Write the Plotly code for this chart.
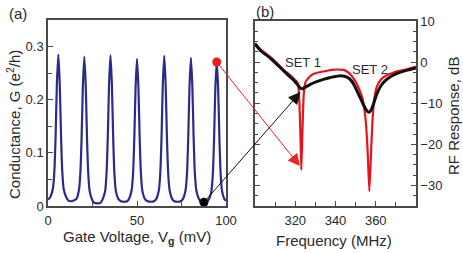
import plotly.graph_objects as go

# ---------------- Data ----------------
# Panel (a): conductance vs gate voltage
vg_mV = [0, 1.3, 2.8, 3.6, 4.3, 5.0, 5.8, 6.6, 7.3, 8.0, 8.8, 10.3, 11.5, 13.0,
         15.9, 17.4, 18.2, 18.9, 19.6, 20.4, 21.2, 21.9, 22.6, 23.4, 24.9, 26.0, 28.0, 29.5,
         30.6, 32.1, 32.9, 33.6, 34.3, 35.1, 35.9, 36.6, 37.3, 38.1, 39.6, 41.0, 43.0, 44.5,
         45.5, 47.0, 47.8, 48.5, 49.2, 50.0, 50.8, 51.5, 52.2, 53.0, 54.5, 56.0, 58.0, 59.5,
         60.8, 62.3, 63.1, 63.8, 64.5, 65.3, 66.1, 66.8, 67.5, 68.3, 69.8, 71.0, 73.0, 74.5,
         75.8, 77.3, 78.1, 78.8, 79.5, 80.3, 81.1, 81.8, 82.5, 83.3, 84.8, 86.0, 87.6, 89.0,
         90.3, 91.8, 92.6, 93.3, 94.0, 94.8, 95.6, 96.3, 97.0, 97.8, 99.3, 100.0]
conductance = [0.012, 0.017, 0.034, 0.067, 0.135, 0.230, 0.285, 0.230, 0.135, 0.066, 0.032, 0.016, 0.010, 0.009,
               0.013, 0.030, 0.063, 0.131, 0.226, 0.281, 0.226, 0.130, 0.062, 0.028, 0.011, 0.006, 0.005, 0.006,
               0.012, 0.028, 0.062, 0.131, 0.228, 0.284, 0.228, 0.131, 0.062, 0.029, 0.013, 0.009, 0.008, 0.009,
               0.013, 0.030, 0.062, 0.129, 0.223, 0.277, 0.223, 0.128, 0.061, 0.029, 0.013, 0.009, 0.008, 0.009,
               0.013, 0.030, 0.063, 0.131, 0.228, 0.283, 0.228, 0.131, 0.063, 0.030, 0.013, 0.009, 0.008, 0.009,
               0.013, 0.030, 0.062, 0.130, 0.225, 0.279, 0.225, 0.130, 0.062, 0.030, 0.013, 0.008, 0.007, 0.008,
               0.012, 0.028, 0.060, 0.126, 0.220, 0.272, 0.220, 0.126, 0.060, 0.028, 0.012, 0.010]

# marked operating points in (a)
red_point = (94.8, 0.271)
black_point = (87.6, 0.007)

# Panel (b): RF response vs frequency
freq_red = [300, 303, 307.5, 311, 314, 317, 319, 320.5, 321.4, 322.0, 322.6, 323.0, 323.5, 324.2, 325.0,
            327, 329, 331, 335, 338, 341, 344, 346, 348, 350, 352, 353.5, 354.5, 355.3, 356.0, 356.8,
            357.5, 358.3, 359.2, 360.5, 362.5, 365, 368, 371, 375, 380]
rf_red = [4.6, 3.0, 1.3, -0.3, -1.8, -3.0, -3.9, -4.6, -5.4, -9.0, -18.0, -26.2, -18.0, -8.0, -5.0,
          -3.6, -2.9, -2.6, -2.2, -1.9, -1.8, -1.9, -2.4, -3.3, -4.8, -6.8, -9.0, -12.0, -16.0, -22.0, -31.4,
          -24.0, -15.0, -9.2, -6.0, -4.3, -3.3, -2.7, -2.2, -1.8, -1.1]

freq_black = [300, 303, 307.5, 311, 314, 317, 319, 321, 322.5, 323.5, 325, 327.5, 331, 334, 338, 342.5,
              346, 348, 350, 352, 354, 355.5, 356.5, 357.5, 359, 360.5, 362.5, 365, 367.5, 371, 374, 377, 380]
rf_black = [4.4, 2.7, 1.0, -0.6, -2.0, -3.4, -4.3, -5.4, -6.3, -6.5, -6.1, -5.4, -4.7, -4.2, -3.7, -3.3,
            -3.7, -4.6, -6.3, -8.4, -10.5, -11.8, -12.2, -11.8, -10.0, -7.8, -5.8, -4.4, -3.5, -2.7, -2.2, -1.8, -1.4]

# arrow targets in (b)
red_target = (322.3, -25.3)
black_target = (322.6, -7.3)

xa_ticks = [0, 50, 100]
ya_ticks = [0, 0.1, 0.2, 0.3]
ya_ticktext = ["0", "0.1", "0.2", "0.3"]
xb_ticks = [320, 340, 360]
yb_ticks = [10, 0, -10, -20, -30]

# ---------------- Layout geometry ----------------
W, H = 463, 253
xa_dom = [48 / W, 226 / W]
ya_dom = [(H - 206) / H, (H - 20) / H]
xb_dom = [255 / W, 416 / W]
yb_dom = [(H - 206) / H, (H - 21) / H]
xa_rng = [0, 100]
ya_rng = [0, 0.35]
xb_rng = [300, 380]
yb_rng = [-35, 10]


def to_px(v, dom, rng, size, flip):
    p = dom[0] + (v - rng[0]) / (rng[1] - rng[0]) * (dom[1] - dom[0])
    return (1 - p) * size if flip else p * size


FONT = "Liberation Sans, Arial, sans-serif"
TXT = "#2a2a2a"
AXC = "#4a4a4a"

fig = go.Figure()

fig.add_trace(go.Scatter(x=vg_mV, y=conductance, mode="lines",
                         line=dict(color="#2b2b8c", width=2.2, shape="spline", smoothing=0.6),
                         xaxis="x", yaxis="y", showlegend=False))
fig.add_trace(go.Scatter(x=[red_point[0]], y=[red_point[1]], mode="markers",
                         marker=dict(color="#ee1c1c", size=9), cliponaxis=False,
                         xaxis="x", yaxis="y", showlegend=False))
fig.add_trace(go.Scatter(x=[black_point[0]], y=[black_point[1]], mode="markers",
                         marker=dict(color="#000000", size=9), cliponaxis=False,
                         xaxis="x", yaxis="y", showlegend=False))

fig.add_trace(go.Scatter(x=freq_red, y=rf_red, mode="lines",
                         line=dict(color="#e8141c", width=2.2, shape="spline", smoothing=0.4),
                         xaxis="x2", yaxis="y2", showlegend=False))
fig.add_trace(go.Scatter(x=freq_black, y=rf_black, mode="lines",
                         line=dict(color="#111111", width=3, shape="spline", smoothing=0.6),
                         xaxis="x2", yaxis="y2", showlegend=False))

axis_common = dict(showgrid=False, zeroline=False, showline=True, linecolor=AXC, linewidth=1.5,
                   ticks="inside", tickcolor=AXC, tickwidth=1, automargin=False,
                   tickfont=dict(family=FONT, size=13, color=TXT))

fig.update_layout(
    template="none",
    width=W, height=H, margin=dict(l=0, r=0, t=0, b=0, autoexpand=False),
    paper_bgcolor="white", plot_bgcolor="white",
    xaxis=dict(domain=xa_dom, range=xa_rng, tickvals=xa_ticks, ticklen=5, mirror=True,
               ticklabelstandoff=2,
               minor=dict(dtick=25, ticklen=4, ticks="inside", tickcolor=AXC),
               anchor="y", **axis_common),
    yaxis=dict(domain=ya_dom, range=ya_rng, tickvals=ya_ticks, ticktext=ya_ticktext, ticklen=5, mirror=True,
               minor=dict(dtick=0.05, ticklen=4, ticks="inside", tickcolor=AXC),
               anchor="x", **axis_common),
    xaxis2=dict(domain=xb_dom, range=xb_rng, tickvals=xb_ticks, ticklen=5, mirror=True,
                ticklabelstandoff=2,
                minor=dict(dtick=10, ticklen=4, ticks="inside", tickcolor=AXC),
                anchor="y2", **axis_common),
    yaxis2=dict(domain=yb_dom, range=yb_rng, tickvals=yb_ticks, ticklen=5, side="right", mirror="allticks",
                minor=dict(dtick=2.5, ticklen=3, ticks="inside", tickcolor=AXC),
                anchor="x2", **axis_common),
)

ann = []


def label(text, x, y, size=15, angle=0, xref="paper", yref="paper"):
    ann.append(dict(text=text, x=x, y=y, xref=xref, yref=yref, showarrow=False, textangle=angle,
                    xanchor="center", yanchor="middle", font=dict(family=FONT, size=size, color=TXT)))


# panel labels
label("(a)", 18 / W, 1 - 13 / H)
label("(b)", 265 / W, 1 - 12 / H)
# axis titles
label("Conductance, G (e<sup>2</sup>/h)", 13 / W, 1 - 125 / H, angle=-90)
label("Gate Voltage, V<sub><b>g</b></sub> (mV)", 137 / W, 1 - 237 / H)
label("Frequency (MHz)", 334 / W, 1 - 240 / H)
label("RF Response, dB", 453 / W, 1 - 116 / H, angle=-90)
# SET labels
label("SET 1", 324, 0, size=13, xref="x2", yref="y2")
label("SET 2", 357, -1.8, size=13, xref="x2", yref="y2")

# arrows linking operating points to responses
for src, dst, col in [(red_point, red_target, "#ee2222"), (black_point, black_target, "#111111")]:
    hx = to_px(dst[0], xb_dom, xb_rng, W, False)
    hy = to_px(dst[1], yb_dom, yb_rng, H, True)
    tx = to_px(src[0], xa_dom, xa_rng, W, False)
    ty = to_px(src[1], ya_dom, ya_rng, H, True)
    ann.append(dict(text="", xref="x2", yref="y2", axref="pixel", ayref="pixel",
                    x=dst[0], y=dst[1], ax=tx - hx, ay=ty - hy,
                    showarrow=True, arrowhead=2, arrowsize=2.4, arrowwidth=1, arrowcolor=col))

fig.update_layout(annotations=ann)

fig.write_html("out.html", config={"displayModeBar": False},
               post_script="document.body.style.margin='0px';")
